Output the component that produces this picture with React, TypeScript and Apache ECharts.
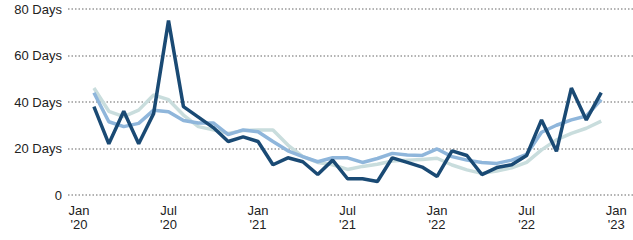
import React, { useEffect, useRef } from "react";
import * as echarts from "echarts";

// Months indexed from Jan 2020 = 0; series cover Feb 2020 .. Dec 2022
const monthIndex: number[] = Array.from({ length: 35 }, (_, i) => i + 1);

const darkSeries: number[] = [
  38, 22, 36, 22, 35, 75, 38, 33.5, 29, 23, 25,
  23, 13, 16, 14.3, 8.8, 15, 7, 7, 5.8, 16, 14, 12,
  8, 19, 17, 8.8, 11.8, 13, 17, 32.3, 18.8, 46, 32.3, 44,
];
const mediumSeries: number[] = [
  44, 31.5, 29.4, 30.8, 36.5, 35.8, 32, 31, 31, 26, 28,
  27.2, 23, 19, 16.5, 14.3, 16, 16, 14, 15.7, 17.9, 17.2, 17,
  19.8, 16.5, 15, 14, 13.6, 15, 17.5, 27, 30, 32.3, 34, 41,
];
const lightSeries: number[] = [
  46, 36, 33.7, 36.5, 43, 41, 34.4, 29.4, 28, 26.5, 27.7,
  28, 28, 21.5, 16.5, 14, 13, 11, 12.3, 13.2, 14.6, 15, 15.3,
  15.8, 12.9, 10.8, 9.3, 10.3, 11.7, 14, 19.4, 23.7, 26.5, 28.7, 31.8,
];

const xTickValues: number[] = [0, 6, 12, 18, 24, 30, 36];
const xTickLabels: string[] = [
  "Jan\n'20", "Jul\n'20", "Jan\n'21", "Jul\n'21", "Jan\n'22", "Jul\n'22", "Jan\n'23",
];
const yTickLabels: Record<number, string> = {
  0: "0", 20: "20 Days", 40: "40 Days", 60: "60 Days", 80: "80 Days",
};

const pair = (vals: number[]) => vals.map((v, i) => [monthIndex[i], v]);

export default function App() {
  const ref = useRef<HTMLDivElement>(null);
  useEffect(() => {
    if (!ref.current) return;
    const chart = echarts.init(ref.current, undefined, { renderer: "svg" });
    const font = "'Liberation Sans', Arial, sans-serif";
    chart.setOption({
      animation: false,
      grid: { left: 68, right: 0, top: 9, bottom: 45, containLabel: false },
      xAxis: {
        type: "value",
        min: -0.737,
        max: 37.13,
        axisLine: { show: false },
        axisTick: { show: false },
        splitLine: { show: false },
        axisLabel: {
          customValues: xTickValues,
          formatter: (v: number) => {
            const k = xTickValues.indexOf(Math.round(v));
            return k >= 0 ? xTickLabels[k] : "";
          },
          color: "#222",
          fontFamily: font,
          fontSize: 13,
          lineHeight: 14,
          margin: 8,
        },
      },
      yAxis: {
        type: "value",
        min: 0,
        max: 80,
        interval: 20,
        axisLine: { show: false },
        axisTick: { show: false },
        axisLabel: {
          formatter: (v: number) => yTickLabels[v] ?? String(v),
          color: "#222",
          fontFamily: font,
          fontSize: 13,
          margin: 6,
        },
        splitLine: {
          show: true,
          lineStyle: { type: [1.5, 2], color: "#999", width: 1.5 },
        },
      },
      series: [
        {
          type: "line",
          data: pair(lightSeries),
          symbol: "none",
          lineStyle: { color: "#c9dddd", width: 3.5 },
          z: 1,
        },
        {
          type: "line",
          data: pair(mediumSeries),
          symbol: "none",
          lineStyle: { color: "#8fb6db", width: 3.5 },
          z: 2,
        },
        {
          type: "line",
          data: pair(darkSeries),
          symbol: "none",
          lineStyle: { color: "#1a4a74", width: 3.5 },
          z: 3,
        },
      ],
    });
    return () => chart.dispose();
  }, []);
  return (
    <div
      ref={ref}
      style={{ position: "fixed", left: 0, top: 0, width: 633, height: 240, background: "#fff" }}
    />
  );
}
